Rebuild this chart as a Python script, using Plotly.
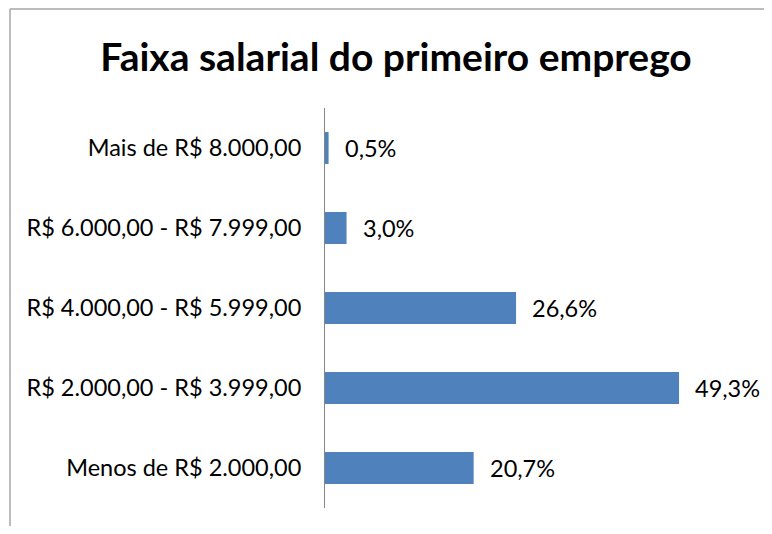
import plotly.graph_objects as go

categories = ["Menos de R$ 2.000,00", "R$ 2.000,00 - R$ 3.999,00", "R$ 4.000,00 - R$ 5.999,00",
              "R$ 6.000,00 - R$ 7.999,00", "Mais de R$ 8.000,00"]
values = [20.7, 49.3, 26.6, 3.0, 0.5]
labels = ["20,7%", "49,3%", "26,6%", "3,0%", "0,5%"]

FONT = "Lato, Open Sans, sans-serif"

fig = go.Figure(go.Bar(
    y=categories, x=values, orientation="h",
    marker=dict(color="#4F81BD", line=dict(width=0)),
    hoverinfo="skip",
))

for c, v, t in zip(categories, values, labels):
    fig.add_annotation(x=v, y=c, text=t, xanchor="left", yanchor="middle",
                       xshift=14, showarrow=False,
                       font=dict(family=FONT, size=23.5, color="#000000"))

# page body has an 8px default margin, so figure coords are offset by 8px
# and the figure is kept small enough to avoid scrollbars
W, H = 756, 518
L, R, T, B = 317, 44, 100, 18
pw, ph = W - L - R, H - T - B

fx0 = (2 - L) / pw
fx1 = (W - L) / pw
fy0 = -B / ph
fy1 = 1 + (T - 1) / ph
frame = dict(color="#A6A6A6", width=1.5)
fig.add_shape(type="line", xref="paper", yref="paper", x0=fx0, x1=fx1, y0=fy1, y1=fy1,
              line=frame, layer="below")
fig.add_shape(type="line", xref="paper", yref="paper", x0=fx0, x1=fx0, y0=fy0, y1=fy1,
              line=frame, layer="below")

fig.update_layout(
    width=W, height=H,
    margin=dict(l=L, r=R, t=T, b=B, autoexpand=False),
    paper_bgcolor="white", plot_bgcolor="white",
    bargap=0.6,
    showlegend=False,
    title=dict(text="<b>Faixa salarial do primeiro emprego</b>", x=388 / W, xref="container",
               xanchor="center", y=1 - 49 / H, yref="container", yanchor="middle",
               font=dict(family=FONT, size=39, color="#000000")),
    xaxis=dict(range=[0, 55], showgrid=False, zeroline=False, showline=False,
               showticklabels=False, ticks="", automargin=False),
    yaxis=dict(showgrid=False, zeroline=False, showline=True, linecolor="#868686", linewidth=1,
               ticks="", ticklabelstandoff=18, automargin=False,
               tickfont=dict(family=FONT, size=23.5, color="#000000")),
)

fig.write_html("out.html")
